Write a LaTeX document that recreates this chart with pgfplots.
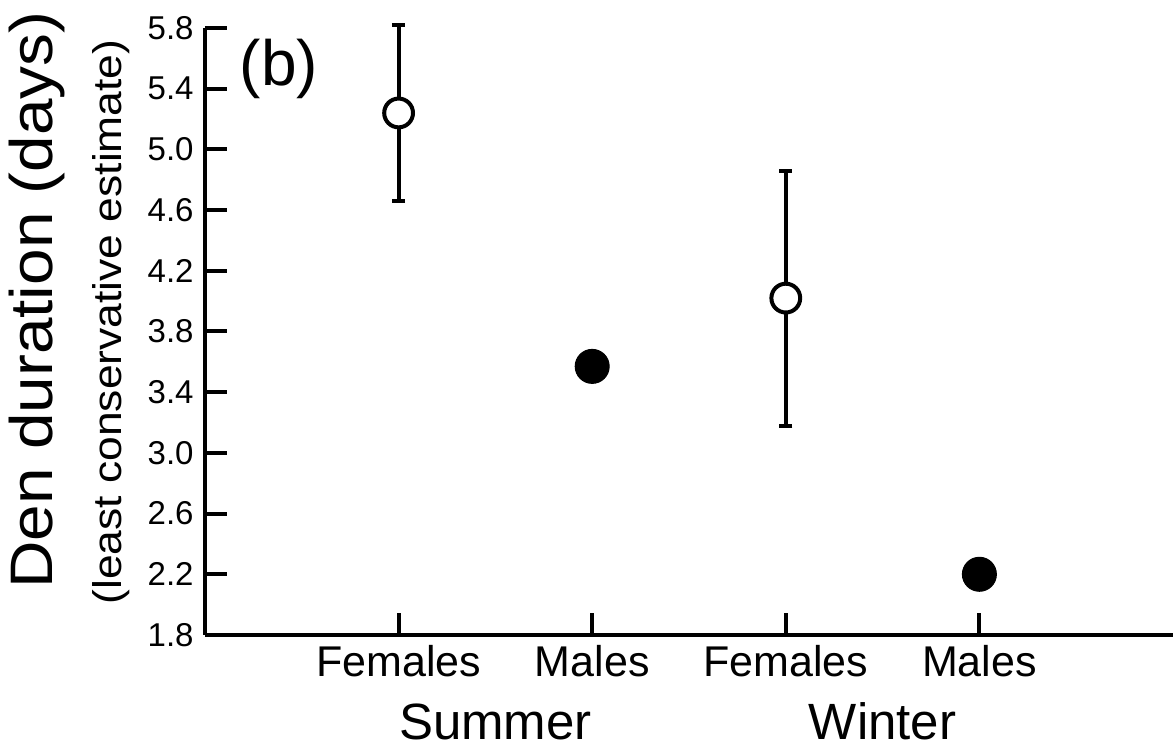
\documentclass[border=0pt]{standalone}
\usepackage{fontspec}
\setmainfont{Liberation Sans}
\usepackage{pgfplots}
\pgfplotsset{compat=1.18}
\begin{document}
\begin{tikzpicture}
\begin{axis}[
  scale only axis,
  width=484pt, height=303.5pt,
  at={(0,0)}, anchor=south west,
  xmin=0, xmax=5, ymin=1.8, ymax=5.8,
  axis x line=bottom, axis y line=left,
  axis line style={-, line width=2pt, black},
  xtick={1,2,3,4},
  xticklabels={Females,Males,Females,Males},
  ytick={1.8,2.2,2.6,3.0,3.4,3.8,4.2,4.6,5.0,5.4,5.8},
  yticklabel style={/pgf/number format/fixed, /pgf/number format/fixed zerofill, /pgf/number format/precision=1, font=\fontsize{16.5}{18}\selectfont, inner sep=0pt, anchor=east, xshift=-5.5pt},
  /pgf/number format/assume math mode=true,
  xticklabel style={font=\fontsize{21.5}{24}\selectfont, inner sep=0pt, anchor=base, yshift=-21pt},
  tick align=inside,
  major tick length=11pt,
  tick style={line width=2pt, black},
  clip=false,
]
\addplot[only marks, mark=*, mark size=7.2pt, mark options={fill=white, draw=black, line width=2pt},
  error bars/.cd, y dir=both, y explicit,
  error bar style={line width=2pt, black},
  error mark options={line width=2pt, mark size=3.3pt, black, rotate=90}]
  coordinates {(1,5.24) +- (0,0.58) (3,4.02) +- (0,0.84)};
\addplot[only marks, mark=*, mark size=8.5pt, mark options={fill=black, draw=black, line width=0.5pt}]
  coordinates {(2,3.57) (4,2.20)};
\node[font=\fontsize{32}{36}\selectfont, inner sep=0pt, anchor=center] at (axis cs:0,1.8) [xshift=37pt, yshift=283pt] {(b)};
\node[font=\fontsize{25.5}{28}\selectfont, inner sep=0pt, anchor=base] at (axis cs:1.5,1.8) [yshift=-52.3pt] {Summer};
\node[font=\fontsize{25.5}{28}\selectfont, inner sep=0pt, anchor=base] at (axis cs:3.5,1.8) [yshift=-52.3pt] {Winter};
\end{axis}
\node[rotate=90, font=\fontsize{30}{34}\selectfont, inner sep=0pt] at (-84pt,167.5pt) {\scalebox{1.095}[1]{Den duration (days)}};
\node[rotate=90, font=\fontsize{20}{24}\selectfont, inner sep=0pt] at (-47pt,156.5pt) {\scalebox{1.11}[1]{(least conservative estimate)}};
\pgfresetboundingbox
\path[use as bounding box] (-102.5pt,-56pt) rectangle (484pt,317.5pt);
\end{tikzpicture}
\end{document}
